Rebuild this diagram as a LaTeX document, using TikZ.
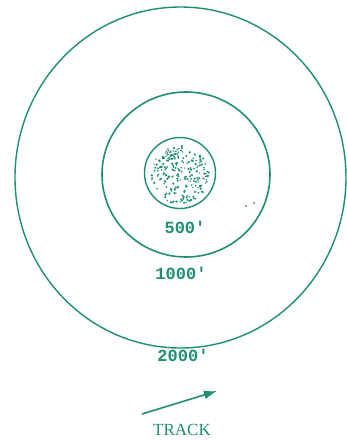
\documentclass[tikz,border=0pt]{standalone}
\usepackage{fontspec}
\usetikzlibrary{arrows.meta}
\newfontfamily\numfont{Liberation Mono}
\newfontfamily\capfont{Liberation Serif}
\definecolor{ink}{RGB}{30,142,118}
\definecolor{speck}{RGB}{120,130,128}
\begin{document}
\begin{tikzpicture}[x=1pt,y=-1pt,
  ring/.style={draw=ink,line width=1.4pt},
  lbl/.style={text=ink,font=\numfont\bfseries\fontsize{17}{18}\selectfont,inner sep=0pt},
  tlbl/.style={text=ink,font=\capfont\fontsize{17}{18}\selectfont,inner sep=0pt},
  dot/.style={fill=ink}]
\useasboundingbox (0,0) rectangle (347,440);
\fill[white] (0,0) rectangle (347,440);
% rings
\draw[ring] (180.5,177.5) ellipse [x radius=165.5, y radius=170.5];
\draw[ring,line width=1.6pt] (186,174.5) ellipse [x radius=84, y radius=82.5];
\draw[ring] (180,173) circle (35.5);
% stipple inside the inner circle
\pgfmathsetseed{4242}
\foreach \i in {1,...,210}{
  \pgfmathsetmacro\rr{29*sqrt(rnd)}
  \pgfmathsetmacro\tt{360*rnd}
  \pgfmathsetmacro\ss{0.7+0.6*rnd}
  \fill[dot] ({180+\rr*cos(\tt)},{175+\rr*sin(\tt)}) circle (\ss);
}
\foreach \i in {1,...,30}{
  \pgfmathsetmacro\rr{7*sqrt(rnd)}
  \pgfmathsetmacro\tt{360*rnd}
  \fill[dot] ({172+\rr*cos(\tt)},{153+\rr*sin(\tt)}) circle (0.9);
}
% stray specks
\fill[speck] (246,206) circle (1.1);
\fill[speck] (254,203) circle (1.1);
% labels
\node[lbl] (l500) at (185,227) {500\textquotesingle};
\node[lbl] (l1000) at (181,273) {1000\textquotesingle};
\node[lbl] (l2000) at (183,355) {2000\textquotesingle};
% track arrow
\coordinate (tr0) at (142,414);
\coordinate (tr1) at (217,391);
\draw[draw=ink,line width=1.6pt,-{Latex[length=13pt,width=9pt]}] (tr0) -- (tr1);
\node[tlbl] (track) at (182,430) {TRACK};
\end{tikzpicture}
\end{document}
